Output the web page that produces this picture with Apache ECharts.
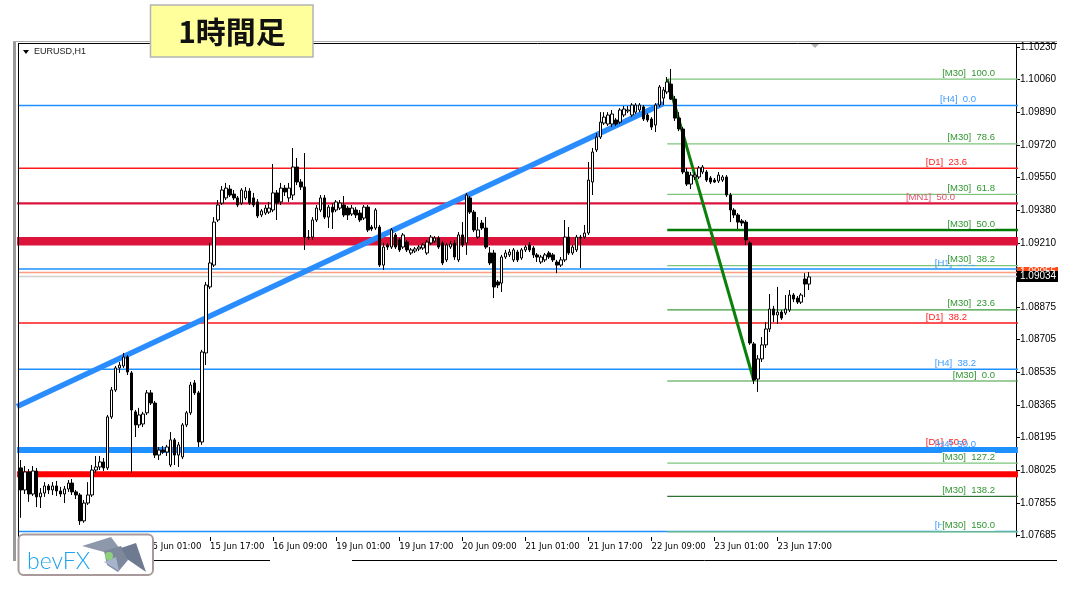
<!DOCTYPE html>
<html><head><meta charset="utf-8">
<script src="https://cdn.jsdelivr.net/npm/echarts@6/dist/echarts.min.js"></script>
<style>html,body{margin:0;padding:0;background:#fff}#c{width:1075px;height:592px}</style>
</head><body><div id="c"></div>
<script>
// ---------------- DATA ----------------
// EURUSD H1 candles (bar 0 = 13 Jun 17:00)
const openP = [1.08037,1.07922,1.08016,1.07901,1.08021,1.07886,1.07906,1.07943,1.07922,1.07943,
1.07917,1.07901,1.07927,1.07958,1.07912,1.07896,1.07761,1.07854,1.07896,1.08026,
1.08042,1.08068,1.08037,1.08303,1.08443,1.08558,1.08568,1.08615,1.08532,1.08329,
1.08261,1.08266,1.08324,1.08428,1.08375,1.08104,1.08130,1.08120,1.08052,1.08183,
1.08104,1.08094,1.08261,1.08324,1.08480,1.08428,1.08172,1.08636,1.08980,1.09094,
1.09329,1.09417,1.09444,1.09490,1.09464,1.09444,1.09417,1.09444,1.09480,1.09444,
1.09423,1.09355,1.09365,1.09370,1.09381,1.09470,1.09423,1.09495,1.09444,1.09459,
1.09605,1.09527,1.09501,1.09240,1.09240,1.09329,1.09381,1.09444,1.09344,1.09396,
1.09381,1.09391,1.09407,1.09391,1.09360,1.09381,1.09365,1.09339,1.09396,1.09292,
1.09287,1.09292,1.09094,1.09199,1.09188,1.09251,1.09225,1.09188,1.09214,1.09157,
1.09167,1.09178,1.09183,1.09157,1.09209,1.09219,1.09235,1.09209,1.09121,1.09188,
1.09209,1.09121,1.09251,1.09209,1.09444,1.09370,1.09240,1.09313,1.09287,1.09157,
1.09157,1.09006,1.09000,1.09136,1.09147,1.09121,1.09162,1.09131,1.09173,1.09199,
1.09183,1.09147,1.09110,1.09121,1.09157,1.09147,1.09110,1.09094,1.09121,1.09240,
1.09157,1.09173,1.09240,1.09240,1.09261,1.09527,1.09694,1.09761,1.09834,1.09829,
1.09829,1.09850,1.09839,1.09876,1.09897,1.09876,1.09891,1.09902,1.09918,1.09876,
1.09855,1.09824,1.09928,1.09964,1.09996,1.10037,1.09959,1.09860,1.09803,1.09579,
1.09516,1.09553,1.09553,1.09579,1.09579,1.09548,1.09537,1.09532,1.09537,1.09553,
1.09459,1.09381,1.09355,1.09324,1.09318,1.09209,1.08683,1.08500,1.08605,1.08678,
1.08761,1.08865,1.08834,1.08849,1.08844,1.08860,1.08938,1.08922,1.08901,1.09021,
1.08995];
const highP = [1.08078,1.08047,1.08031,1.08047,1.08037,1.07932,1.07963,1.07953,1.07963,1.07969,
1.07938,1.07943,1.07974,1.07979,1.07922,1.07906,1.07870,1.07963,1.08052,1.08099,
1.08099,1.08089,1.08313,1.08459,1.08568,1.08589,1.08636,1.08625,1.08542,1.08339,
1.08350,1.08329,1.08443,1.08443,1.08386,1.08146,1.08151,1.08157,1.08224,1.08193,
1.08172,1.08271,1.08334,1.08485,1.08495,1.08438,1.08652,1.09006,1.09209,1.09344,
1.09433,1.09506,1.09522,1.09511,1.09485,1.09454,1.09495,1.09501,1.09495,1.09470,
1.09438,1.09386,1.09407,1.09423,1.09621,1.09485,1.09522,1.09511,1.09522,1.09704,
1.09652,1.09542,1.09678,1.09277,1.09344,1.09407,1.09459,1.09459,1.09407,1.09417,
1.09433,1.09433,1.09454,1.09402,1.09407,1.09396,1.09381,1.09407,1.09407,1.09303,
1.09391,1.09303,1.09209,1.09209,1.09287,1.09261,1.09235,1.09261,1.09225,1.09183,
1.09188,1.09199,1.09209,1.09225,1.09251,1.09245,1.09245,1.09219,1.09209,1.09219,
1.09225,1.09266,1.09318,1.09470,1.09454,1.09381,1.09344,1.09329,1.09344,1.09188,
1.09173,1.09016,1.09147,1.09173,1.09178,1.09183,1.09173,1.09183,1.09199,1.09214,
1.09193,1.09157,1.09147,1.09157,1.09167,1.09157,1.09121,1.09136,1.09329,1.09292,
1.09199,1.09251,1.09251,1.09303,1.09631,1.09704,1.09782,1.09891,1.09891,1.09891,
1.09902,1.09860,1.09912,1.09923,1.09923,1.09938,1.09938,1.09938,1.09928,1.09886,
1.09865,1.09938,1.10032,1.10022,1.10074,1.10116,1.09975,1.09891,1.09813,1.09600,
1.09579,1.09579,1.09610,1.09615,1.09589,1.09558,1.09548,1.09579,1.09563,1.09563,
1.09470,1.09391,1.09365,1.09334,1.09329,1.09219,1.08693,1.08625,1.08719,1.08797,
1.08943,1.08881,1.08980,1.08860,1.08938,1.08964,1.08948,1.08933,1.08948,1.09052,
1.09058];
const lowP = [1.07777,1.07901,1.07860,1.07891,1.07833,1.07828,1.07886,1.07901,1.07896,1.07891,
1.07886,1.07854,1.07912,1.07896,1.07875,1.07740,1.07751,1.07844,1.07886,1.08011,
1.08026,1.08021,1.08026,1.08292,1.08433,1.08532,1.08558,1.08521,1.08011,1.08198,
1.08245,1.08250,1.08313,1.08365,1.08089,1.08078,1.08110,1.08099,1.08042,1.08052,
1.08042,1.08083,1.08250,1.08313,1.08417,1.08146,1.08157,1.08573,1.08969,1.09084,
1.09318,1.09407,1.09433,1.09449,1.09433,1.09396,1.09407,1.09433,1.09407,1.09396,
1.09339,1.09344,1.09355,1.09360,1.09370,1.09329,1.09407,1.09454,1.09423,1.09433,
1.09511,1.09485,1.09173,1.09225,1.09225,1.09318,1.09370,1.09334,1.09287,1.09282,
1.09370,1.09381,1.09344,1.09329,1.09350,1.09339,1.09318,1.09329,1.09266,1.09271,
1.09277,1.09084,1.09068,1.09173,1.09178,1.09178,1.09162,1.09178,1.09162,1.09147,
1.09157,1.09167,1.09173,1.09147,1.09199,1.09209,1.09178,1.09094,1.09110,1.09178,
1.09121,1.09110,1.09188,1.09147,1.09360,1.09266,1.09230,1.09277,1.09178,1.09094,
1.08922,1.08974,1.08954,1.09126,1.09136,1.09110,1.09110,1.09121,1.09162,1.09162,
1.09131,1.09110,1.09100,1.09110,1.09126,1.09110,1.09052,1.09084,1.09110,1.09147,
1.09147,1.09162,1.09079,1.09230,1.09251,1.09459,1.09683,1.09751,1.09824,1.09819,
1.09813,1.09819,1.09829,1.09865,1.09886,1.09865,1.09881,1.09891,1.09845,1.09839,
1.09798,1.09787,1.09918,1.09928,1.09985,1.09954,1.09845,1.09792,1.09568,1.09506,
1.09490,1.09537,1.09542,1.09568,1.09527,1.09516,1.09522,1.09522,1.09527,1.09449,
1.09318,1.09339,1.09282,1.09297,1.09199,1.08678,1.08474,1.08433,1.08589,1.08662,
1.08745,1.08797,1.08787,1.08808,1.08834,1.08849,1.08901,1.08891,1.08891,1.08927,
1.08964];
const closeP = [1.07922,1.08016,1.07901,1.08021,1.07886,1.07906,1.07943,1.07922,1.07943,1.07917,
1.07901,1.07927,1.07958,1.07912,1.07896,1.07761,1.07854,1.07896,1.08026,1.08042,
1.08068,1.08037,1.08303,1.08443,1.08558,1.08573,1.08615,1.08537,1.08339,1.08261,
1.08313,1.08318,1.08428,1.08375,1.08104,1.08130,1.08120,1.08146,1.08183,1.08104,
1.08157,1.08261,1.08324,1.08469,1.08428,1.08172,1.08641,1.08990,1.09105,1.09318,
1.09407,1.09485,1.09495,1.09459,1.09444,1.09407,1.09485,1.09480,1.09417,1.09407,
1.09350,1.09376,1.09391,1.09391,1.09470,1.09417,1.09495,1.09475,1.09495,1.09605,
1.09527,1.09501,1.09240,1.09235,1.09329,1.09391,1.09444,1.09344,1.09396,1.09370,
1.09423,1.09417,1.09355,1.09355,1.09391,1.09355,1.09329,1.09396,1.09277,1.09282,
1.09381,1.09094,1.09188,1.09188,1.09277,1.09188,1.09173,1.09251,1.09173,1.09173,
1.09178,1.09188,1.09199,1.09214,1.09240,1.09235,1.09188,1.09105,1.09199,1.09204,
1.09136,1.09251,1.09199,1.09459,1.09370,1.09277,1.09277,1.09287,1.09188,1.09105,
1.08980,1.08990,1.09136,1.09157,1.09162,1.09173,1.09121,1.09173,1.09188,1.09173,
1.09147,1.09136,1.09136,1.09147,1.09136,1.09121,1.09094,1.09121,1.09240,1.09157,
1.09188,1.09240,1.09235,1.09261,1.09537,1.09683,1.09761,1.09839,1.09865,1.09876,
1.09881,1.09829,1.09902,1.09907,1.09902,1.09928,1.09928,1.09928,1.09855,1.09850,
1.09813,1.09928,1.10022,1.10006,1.10048,1.09959,1.09860,1.09803,1.09579,1.09516,
1.09563,1.09563,1.09600,1.09605,1.09537,1.09527,1.09527,1.09563,1.09553,1.09459,
1.09381,1.09355,1.09318,1.09313,1.09225,1.08688,1.08495,1.08605,1.08678,1.08761,
1.08865,1.08834,1.08849,1.08818,1.08865,1.08938,1.08917,1.08901,1.08938,1.08995,
1.09032];

// Price axis labels and time axis labels
const priceTicks = [1.10230,1.10060,1.09890,1.09720,1.09550,1.09380,1.09210,1.08875,1.08705,1.08535,1.08365,1.08195,1.08025,1.07855,1.07685];
const timeTickIdx = [16,32,48,64,80,96,112,128,144,160,176,192];

// Fibonacci / level objects
const m30Levels = ['100.0','78.6','61.8','50.0','38.2','23.6','0.0','127.2','138.2','150.0'];
const m30Prices = [1.10063,1.09726,1.09462,1.09277,1.09091,1.08861,1.08490,1.08062,1.07889,1.07704];
const m30AnchorIdx = [164, 186];
const m30AnchorPrice = [1.10063, 1.08490];
const h4Levels = ['0.0','38.2','50.0','61.8'];
const h4Prices = [1.09925,1.08551,1.08130,1.07706];
const d1Levels = ['23.6','38.2','50.0'];
const d1Prices = [1.09599,1.08792,1.08140];
const mn1Levels = ['50.0'];
const mn1Prices = [1.09416];
const h1Levels = ['38.2'];
const h1Prices = [1.09074];
const crimsonZone = 1.09218;
const redSupport = 1.08004;
const trendIdx = [-1, 163];
const trendPrice = [1.08357, 1.09936];
const askPrice = 1.09055;
const bidPrice = 1.09034;

// ---------------- BUILD ----------------
const N_SLOTS = 253;
const MONTHS = ['Jan','Feb','Mar','Apr','May','Jun','Jul','Aug','Sep','Oct','Nov','Dec'];
const categories = [];
(function(){
  let t = Date.UTC(2023,5,13,17);
  while (categories.length < N_SLOTS) {
    const d = new Date(t), wd = d.getUTCDay();
    if (wd !== 0 && wd !== 6) categories.push(d.getUTCDate()+' '+MONTHS[d.getUTCMonth()]+' '+String(d.getUTCHours()).padStart(2,'0')+':00');
    t += 3600000;
  }
})();
const candles = openP.map((o,i)=>[o, closeP[i], lowP[i], highP[i]]);

const FONT = '"Liberation Sans", Arial, sans-serif';
const series = [];
function seg(x0,x1,p0,p1,color,width){
  series.push({type:'line', data:[[x0,p0],[x1,p1]], symbol:'none', silent:true, clip:true,
    lineStyle:{color:color, width:width, cap:'butt'}, z:2, animation:false});
}
const L = -1, R = N_SLOTS;
// full-width levels
seg(L,R,redSupport,redSupport,'#ff0000',6);
d1Prices.forEach((p,i)=>seg(L,R,p,p,'#ff1a1a',1.5));
seg(L,R,h4Prices[2],h4Prices[2],'#1e90ff',6);
[0,1,3].forEach(i=>seg(L,R,h4Prices[i],h4Prices[i],'#1e90ff',1.5));
seg(L,R,h1Prices[0],h1Prices[0],'#1e90ff',1.5);
seg(L,R,crimsonZone,crimsonZone,'#dc143c',8.5);
seg(L,R,mn1Prices[0],mn1Prices[0],'#dc143c',2.2);
seg(L,R,askPrice,askPrice,'#ff9e80',1.5);
seg(L,R,bidPrice,bidPrice,'#cfcfcf',1.5);
// trend line
seg(trendIdx[0],trendIdx[1],trendPrice[0],trendPrice[1],'#2a8dff',5.5);
// M30 fib levels
const m30Color = {'50.0':'#007a00','138.2':'#2f6f2f','23.6':'#3c9c3c','0.0':'#3c9c3c'};
m30Prices.forEach((p,i)=>{
  const lv = m30Levels[i];
  seg(m30AnchorIdx[0],R,p,p,m30Color[lv]||'#7cc47c', lv==='50.0'?2.5:1.2);
});
// fib diagonal
seg(m30AnchorIdx[0],m30AnchorIdx[1],m30AnchorPrice[0],m30AnchorPrice[1],'#0a7f0a',3);

series.push({
  type:'candlestick', data:candles, barWidth:3, z:5, animation:false, silent:true,
  itemStyle:{color:'#ffffff', color0:'#000000', borderColor:'#000000', borderColor0:'#000000', borderWidth:1}
});

const option = {
  animation:false,
  backgroundColor:'#ffffff',
  grid:{left:19, top:44, width:997, height:493, containLabel:false},
  xAxis:{type:'category', data:categories, boundaryGap:true, min:0, max:N_SLOTS-1,
    axisLine:{show:false},
    axisTick:{show:true, alignWithLabel:true, length:4, interval:(i)=>timeTickIdx.includes(i), lineStyle:{color:'#000'}},
    axisLabel:{show:true, interval:(i)=>timeTickIdx.includes(i), align:'left', margin:5,
      fontSize:9.5, fontFamily:'"Liberation Sans Narrow", "DejaVu Sans Condensed", "Liberation Sans", sans-serif', color:'#000'},
    splitLine:{show:false}},
  yAxis:{type:'value', position:'right', min:1.07677, max:1.10246, scale:true,
    axisLine:{show:true, lineStyle:{color:'#000', width:1}},
    axisTick:{show:true, length:4, customValues:priceTicks, lineStyle:{color:'#000'}},
    axisLabel:{show:true, customValues:priceTicks, formatter:v=>v.toFixed(5), margin:4, fontSize:10, fontFamily:FONT, color:'#000'},
    splitLine:{show:false}},
  series:series
};

const chart = echarts.init(document.getElementById('c'), null, {renderer:'canvas'});
chart.setOption(option);

const py = p => chart.convertToPixel({yAxisIndex:0}, p);
const g = [];
function lbl(text, price, right, color, bg){
  g.push({type:'text', x:right, y:py(price)-1, z:20, silent:true,
    style:{text:text, fill:color, font:'9.5px '+FONT, align:'right', verticalAlign:'bottom',
      backgroundColor:bg||null}});
}
d1Levels.forEach((lv,i)=>lbl('[D1]  '+lv, d1Prices[i], 967, '#ff2020'));
mn1Levels.forEach((lv,i)=>lbl('[MN1]  '+lv, mn1Prices[i], 955, '#e2506c'));
h1Levels.forEach((lv,i)=>lbl('[H1]  '+lv, h1Prices[i], 976, '#3d9bff'));
h4Levels.forEach((lv,i)=>lbl('[H4]  '+lv, h4Prices[i], 976, '#3d9bff'));
m30Levels.forEach((lv,i)=>lbl('[M30]  '+lv, m30Prices[i], 995, '#2f962f', '#ffffff'));

// price boxes on axis
const ya = py(askPrice), yb = py(bidPrice);
g.push({type:'rect', z:30, shape:{x:1017, y:ya-5.5, width:41, height:11}, style:{fill:'#ff4a1a'}});
g.push({type:'text', z:31, x:1020, y:ya, style:{text:askPrice.toFixed(5), fill:'#fff', font:'10px '+FONT, verticalAlign:'middle'}});
g.push({type:'rect', z:32, shape:{x:1017, y:yb-5.5, width:41, height:11}, style:{fill:'#000'}});
g.push({type:'text', z:33, x:1020, y:yb, style:{text:bidPrice.toFixed(5), fill:'#fff', font:'10px '+FONT, verticalAlign:'middle'}});

// window frame
g.push({type:'rect', z:40, shape:{x:13, y:41, width:3, height:520}, style:{fill:'#999'}});
g.push({type:'line', z:40, shape:{x1:13, y1:41.5, x2:1057, y2:41.5}, style:{stroke:'#aaa', lineWidth:1}});
g.push({type:'line', z:40, shape:{x1:18, y1:43.5, x2:1057, y2:43.5}, style:{stroke:'#000', lineWidth:1}});
g.push({type:'line', z:40, shape:{x1:18.5, y1:43, x2:18.5, y2:537}, style:{stroke:'#000', lineWidth:1}});
g.push({type:'line', z:40, shape:{x1:153, y1:560.5, x2:270, y2:560.5}, style:{stroke:'#000', lineWidth:1}});
g.push({type:'line', z:40, shape:{x1:352, y1:560.5, x2:1057, y2:560.5}, style:{stroke:'#000', lineWidth:1}});
// chart shift marker
g.push({type:'polygon', z:40, shape:{points:[[811,44],[819,44],[815,48]]}, style:{fill:'#b0b0b0'}});
// symbol header
g.push({type:'polygon', z:40, shape:{points:[[23,50],[29,50],[26,54]]}, style:{fill:'#000'}});
g.push({type:'text', z:40, x:34, y:52, style:{text:'EURUSD,H1', fill:'#222', font:'9px '+FONT, verticalAlign:'middle'}});

// title box
g.push({type:'rect', z:50, shape:{x:150.5, y:5, width:162.5, height:52}, style:{fill:'#ffff9c', stroke:'#b4b4b4', lineWidth:1.5}});
g.push({type:'text', z:51, x:232, y:32, style:{text:'1時間足', fill:'#111', font:'bold 30px "Noto Sans CJK JP", sans-serif', align:'center', verticalAlign:'middle'}});

// logo
g.push({type:'rect', z:50, shape:{x:18.5, y:534.5, width:134.5, height:40.5, r:5}, style:{fill:'#fff', stroke:'#a89a9a', lineWidth:2}});
g.push({type:'text', z:51, x:27, y:562, style:{text:'bevFX', fill:'#1ca3ec', font:'300 23px Lato, "Open Sans", sans-serif', verticalAlign:'middle'}});
g.push({type:'polygon', z:51, shape:{points:[[82,546],[111,537],[120,549],[104,552]]}, style:{fill:'#8e98ab'}});
g.push({type:'polygon', z:51, shape:{points:[[104,551],[121,546],[128,560],[118,572],[107,565]]}, style:{fill:'#7d889c'}});
g.push({type:'polygon', z:51, shape:{points:[[121,548],[136,543],[146,572],[127,559]]}, style:{fill:'#6e7a8f'}});
g.push({type:'polygon', z:51, shape:{points:[[104,562],[116,557],[119,571]]}, style:{fill:'#a6b4cb'}});
g.push({type:'circle', z:52, shape:{cx:109, cy:556, r:4}, style:{fill:'#8fd07e'}});

chart.setOption({graphic:g});
</script></body></html>
